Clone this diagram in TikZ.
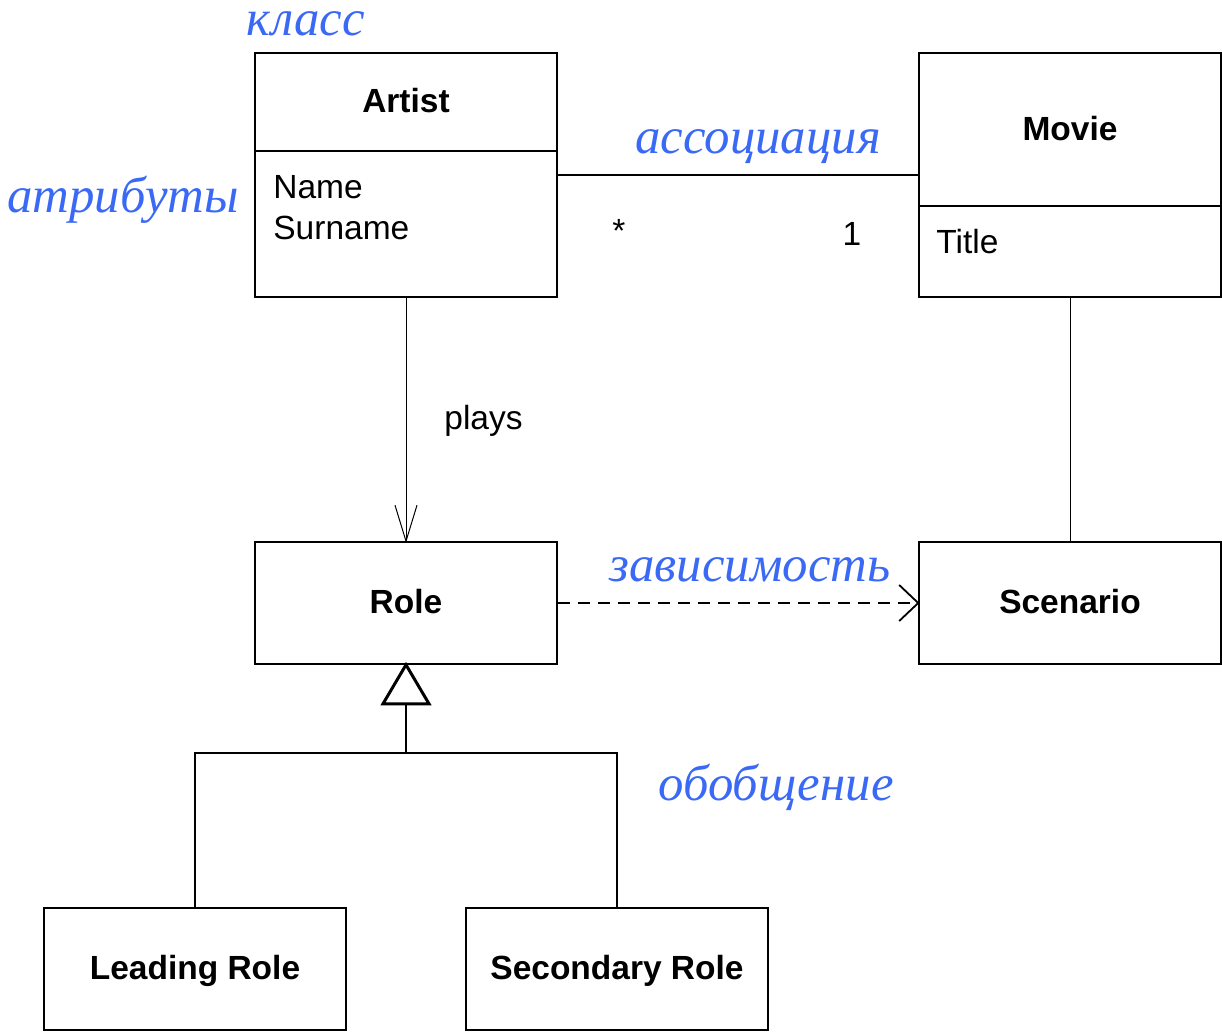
\documentclass[tikz,border=0pt]{standalone}
\usepackage{fontspec}
\setmainfont{Liberation Sans}
\newfontfamily\lblfont{Liberation Serif}
\usetikzlibrary{calc}
\definecolor{lblblue}{RGB}{58,105,245}
\tikzset{
  umlbox/.style={draw, line width=0.8pt, minimum width=151pt, inner sep=0pt, font=\fontsize{16.75}{20}\selectfont\bfseries, text height=12pt, text depth=2pt},
  txt/.style={inner sep=0pt, font=\fontsize{16.75}{20}\selectfont},
  lbl/.style={inner sep=0pt, text=lblblue, font=\lblfont\itshape\fontsize{25.4}{28}\selectfont},
  thinline/.style={line width=0.5pt},
}
\begin{document}
\begin{tikzpicture}[x=0.5pt,y=-0.5pt]
\useasboundingbox (0,0) rectangle (1222,1034);
% class boxes
\node[umlbox, minimum height=122pt] (artist) at (406,175) {};
\node[umlbox, minimum height=122pt] (movie) at (1070,175) {};
\node[umlbox, minimum height=61pt] (role) at (406,603) {Role};
\node[umlbox, minimum height=61pt] (scenario) at (1070,603) {Scenario};
\node[umlbox, minimum height=61pt] (leading) at (195,969) {Leading Role};
\node[umlbox, minimum height=61pt] (secondary) at (617,969) {Secondary Role};
% compartments
\draw[line width=0.8pt] (artist.west |- 0,151) -- (artist.east |- 0,151);
\draw[line width=0.8pt] (movie.west |- 0,206) -- (movie.east |- 0,206);
\node[txt, font=\fontsize{16.75}{20}\selectfont\bfseries, anchor=base] (artisttitle) at (406,112) {Artist};
\node[txt, font=\fontsize{16.75}{20}\selectfont\bfseries, anchor=base] (movietitle) at (1070,140) {Movie};
\node[txt, anchor=base west] (attrname) at (273,198) {Name};
\node[txt, anchor=base west] (attrsurname) at (273,239) {Surname};
\node[txt, anchor=base west] (attrtitle) at (936,253) {Title};
% association
\coordinate (assocA) at (artist.east |- 0,175);
\coordinate (assocB) at (movie.west |- 0,175);
\draw[line width=0.7pt] (assocA) -- (assocB);
\node[txt, anchor=base] (mulA) at (619,242) {*};
\node[txt, anchor=base] (mulB) at (852,245) {1};
% plays
\draw[thinline] (artist.south) -- (role.north);
\draw[thinline] ($(role.north)+(-11,-36)$) -- (role.north) -- ($(role.north)+(11,-36)$);
\node[txt, anchor=base west] (plays) at (444,429) {plays};
% movie - scenario
\draw[thinline] (movie.south) -- (scenario.north);
% dependency
\draw[line width=0.95pt, dash pattern=on 6pt off 4pt] (role.east) -- (scenario.west);
\draw[line width=0.9pt] ($(scenario.west)+(-19,-18)$) -- (scenario.west) -- ($(scenario.west)+(-19,18)$);
% generalization
\coordinate (gbase) at ($(role.south)+(0,39)$);
\coordinate (gjoin) at ($(role.south)+(0,88)$);
\draw[line width=1.5pt, line join=miter] (role.south) -- ($(gbase)+(-23,0)$) -- ($(gbase)+(23,0)$) -- cycle;
\draw[line width=0.8pt] (gbase) -- (gjoin);
\draw[line width=0.8pt] (leading.north) -- (leading.north |- gjoin) -- (secondary.north |- gjoin) -- (secondary.north);
% labels
\node[lbl, anchor=base, text height=0.45em] (lklass) at (306,35) {класс};
\node[lbl, anchor=base] (lattr) at (123,212) {атрибуты};
\node[lbl, anchor=base] (lassoc) at (758,153) {ассоциация};
\node[lbl, anchor=base] (ldep) at (750,581) {зависимость};
\node[lbl, anchor=base] (lgen) at (776,800) {обобщение};
\end{tikzpicture}
\end{document}
